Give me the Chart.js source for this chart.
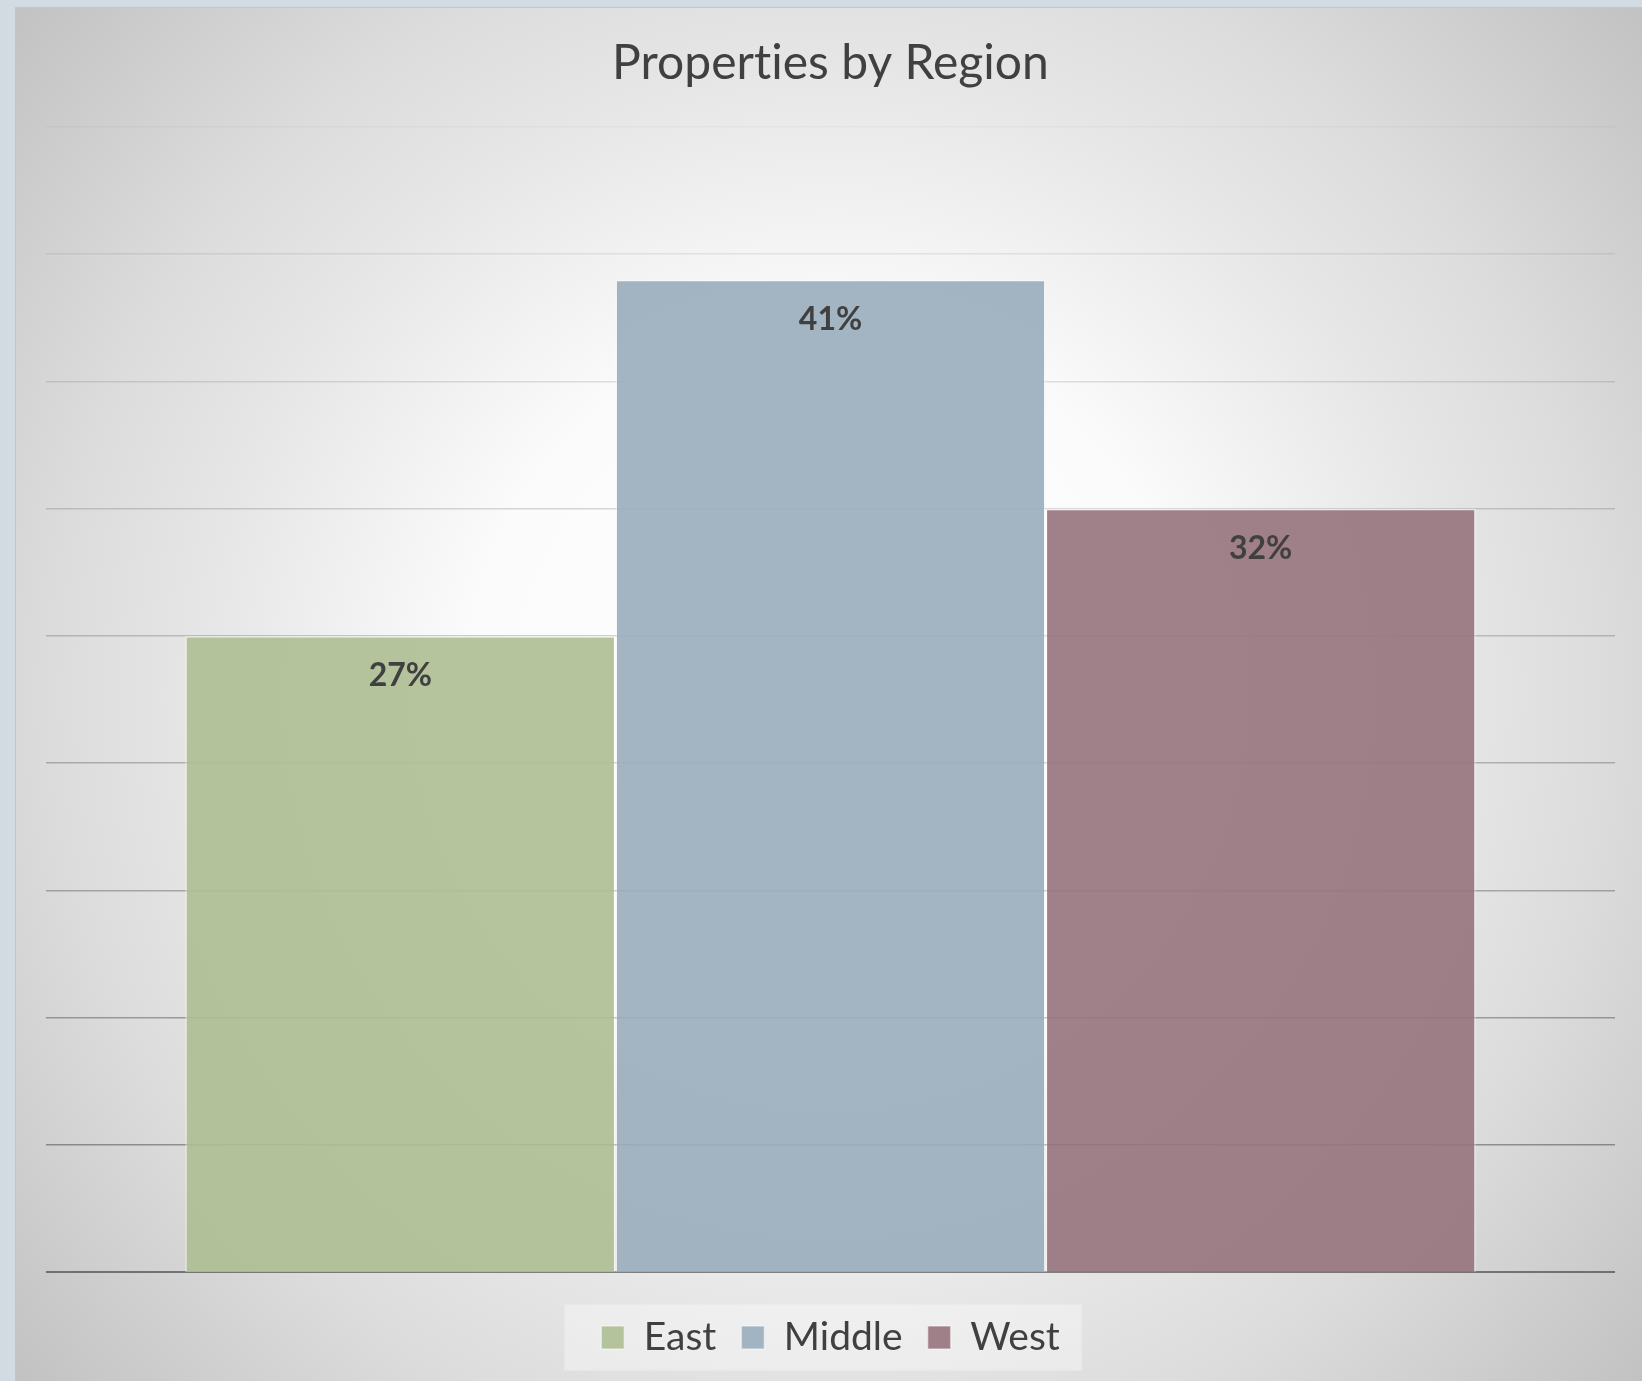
<!DOCTYPE html>
<html>
<head>
<meta charset="utf-8">
<title>Properties by Region</title>
<script src="https://cdn.jsdelivr.net/npm/chart.js@4.4.1/dist/chart.umd.min.js"></script>
<style>
  html, body {
    margin: 0;
    padding: 0;
    width: 1642px;
    height: 1381px;
    overflow: hidden;
    background: #d2dae2;
  }
  #panel {
    position: absolute;
    left: 15px;
    top: 7px;
    width: 1626px;
    height: 1373px;
    border-top: 1px solid #c3c6c9;
    border-left: 1px solid #c3c6c9;
    background: radial-gradient(circle farthest-corner at 50% 50%,
      #ffffff 0%, #fbfbfb 34%, #e6e6e6 59%, #dcdcdc 73%, #c2c2c2 100%);
  }
  #chart {
    display: block;
  }
</style>
</head>
<body>
<div id="panel">
  <canvas id="chart" width="1626" height="1373"></canvas>
</div>
<script>
const categories = ["Properties"];
const regions = ["East", "Middle", "West"];
const shares = [27, 41, 32];
const regionColors = [
  "rgba(173, 190, 146, 0.9)",
  "rgba(153, 173, 189, 0.9)",
  "rgba(150, 114, 124, 0.9)",
];

// value axis runs 2..47 in steps of 5 (ten horizontal lines)
const axisMin = 2;
const axisMax = 47;
const axisStep = 5;

const textColor = "#404040";

// a tiny letter spacing keeps "ti" from turning into a ligature
const noLigatures = {
  id: "noLigatures",
  beforeDraw(chart) {
    chart.ctx.letterSpacing = "0.01px";
  },
};

// light box behind the legend entries
const legendBackdrop = {
  id: "legendBackdrop",
  beforeDraw(chart) {
    const legend = chart.legend;
    if (!legend || !legend.legendHitBoxes.length) return;
    const boxes = legend.legendHitBoxes;
    const left = Math.min(...boxes.map((b) => b.left)) - 37;
    const right = Math.max(...boxes.map((b) => b.left + b.width)) + 22;
    const mid = boxes[0].top + boxes[0].height / 2;
    const ctx = chart.ctx;
    ctx.save();
    ctx.fillStyle = "rgba(255, 255, 255, 0.35)";
    ctx.fillRect(left, mid - 33, right - left, 66);
    ctx.restore();
  },
};

// percentage written inside the top of each bar
const barLabels = {
  id: "barLabels",
  afterDatasetsDraw(chart) {
    const ctx = chart.ctx;
    ctx.save();
    ctx.font = "bold 32px Lato";
    ctx.fillStyle = textColor;
    ctx.textAlign = "center";
    ctx.textBaseline = "middle";
    chart.data.datasets.forEach((ds, i) => {
      const meta = chart.getDatasetMeta(i);
      meta.data.forEach((bar, j) => {
        ctx.fillText(ds.data[j] + "%", bar.x, bar.y + 40);
      });
    });
    ctx.restore();
  },
};

new Chart(document.getElementById("chart"), {
  type: "bar",
  data: {
    labels: categories,
    datasets: regions.map((name, i) => ({
      label: name,
      data: [shares[i]],
      backgroundColor: regionColors[i],
      borderColor: "rgba(255, 255, 255, 0.45)",
      borderWidth: 1.5,
      borderSkipped: false,
      barPercentage: 1,
      categoryPercentage: 0.8225,
    })),
  },
  options: {
    responsive: false,
    animation: false,
    layout: {
      padding: { left: 30, right: 27, top: 0, bottom: 14 },
    },
    scales: {
      x: {
        display: true,
        grid: { display: false },
        border: { display: false },
        ticks: { display: false },
        afterFit(scale) {
          scale.height = 21;
        },
      },
      y: {
        min: axisMin,
        max: axisMax,
        border: { display: false },
        ticks: { display: false, stepSize: axisStep },
        grid: {
          drawTicks: false,
          // lines fade out toward the top
          color: (ctx) => {
            const i = ctx.index;
            const a = i === 0 ? 0.45 : 0.03 + 0.04 * (9 - i);
            return "rgba(0, 0, 0, " + a.toFixed(3) + ")";
          },
          lineWidth: (ctx) => (ctx.index === 0 ? 2 : 1.5),
        },
        afterFit(scale) {
          scale.width = 0;
        },
      },
    },
    plugins: {
      title: {
        display: true,
        text: "Properties by Region",
        color: textColor,
        font: { family: "Lato", size: 48, weight: "normal", lineHeight: 1.2 },
        padding: { top: 27, bottom: 34.4 },
      },
      legend: {
        position: "bottom",
        labels: {
          color: textColor,
          font: { family: "Lato", size: 39 },
          boxWidth: 23,
          boxHeight: 23,
          padding: 25,
        },
      },
      tooltip: { enabled: false },
    },
  },
  plugins: [noLigatures, legendBackdrop, barLabels],
});
</script>
</body>
</html>
